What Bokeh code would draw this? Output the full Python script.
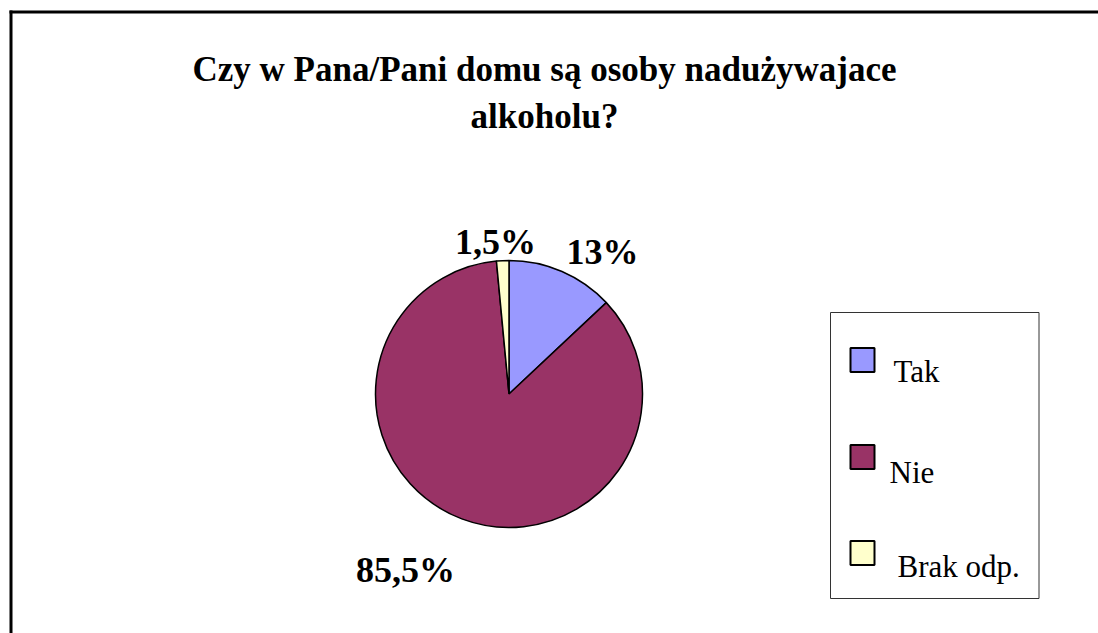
import numpy as np
from bokeh.plotting import figure
from bokeh.models import Range1d, ColumnDataSource
from bokeh.core.properties import value
from bokeh.embed import file_html
from bokeh.resources import INLINE

# ---- data ----
categories = ["Tak", "Nie", "Brak odp."]
shares = [13.0, 85.5, 1.5]
slice_labels = ["13%", "85,5%", "1,5%"]
colors = ["#9999FF", "#993366", "#FFFFCC"]
title_lines = ["Czy w Pana/Pani domu są osoby nadużywajace", "alkoholu?"]

W, H = 1098, 633
def sy(y):
    return H - y  # screen y -> data y

p = figure(width=W, height=H, x_range=Range1d(0, W), y_range=Range1d(0, H),
           output_backend="svg", toolbar_location=None, min_border=0)
p.axis.visible = False
p.grid.visible = False
p.outline_line_color = None
p.background_fill_color = "white"
p.border_fill_color = "white"

SERIF = value("Liberation Serif")

# frame (top and left edges)
p.line([9, W + 5], [sy(11.5), sy(11.5)], line_color="black", line_width=3)
p.line([10.5, 10.5], [sy(10), sy(H + 5)], line_color="black", line_width=3)

# title
tcx = 544
p.text(x=[tcx], y=[sy(69)], text=[title_lines[0]], text_font=SERIF, text_font_size="35px",
       text_font_style="bold", text_align="center", text_baseline="alphabetic", text_color="black")
p.text(x=[tcx], y=[sy(116)], text=[title_lines[1]], text_font=SERIF, text_font_size="35px",
       text_font_style="bold", text_align="center", text_baseline="alphabetic", text_color="black")

# pie
cx, cy, r = 508.5, sy(393.5), 133.5
fr = np.array(shares) / sum(shares)
cum = np.concatenate([[0], np.cumsum(fr)])
start = np.pi / 2 - 2 * np.pi * cum[:-1]
end = np.pi / 2 - 2 * np.pi * cum[1:]
src = ColumnDataSource(dict(start=start, end=end, color=colors, cat=categories))
p.wedge(x=cx, y=cy, radius=r, start_angle="start", end_angle="end", direction="clock",
        fill_color="color", line_color="black", line_width=1.5, source=src)

# slice labels (positions chosen per slice)
lab_x = [602, 405, 495]
lab_y = [sy(251), sy(569), sy(241)]
p.text(x=lab_x, y=lab_y, text=slice_labels, text_font=SERIF, text_font_size="36px",
       text_font_style="bold", text_align="center", text_baseline="alphabetic", text_color="black")

# legend box
p.quad(left=[830], right=[1038.5], top=[sy(312)], bottom=[sy(598)], fill_color="white",
       line_color="#333333", line_width=1)
leg_y = [359.5, 456.5, 552.5]
p.rect(x=[862] * 3, y=[sy(v) for v in leg_y], width=24, height=24, fill_color=colors,
       line_color="black", line_width=2)
p.text(x=[893, 889, 897], y=[sy(371), sy(472), sy(566)], text=categories, text_font=SERIF,
       text_font_size="31px", text_align="left", text_baseline="alphabetic", text_color="black")

open("out.html", "w").write(file_html(p, INLINE))
